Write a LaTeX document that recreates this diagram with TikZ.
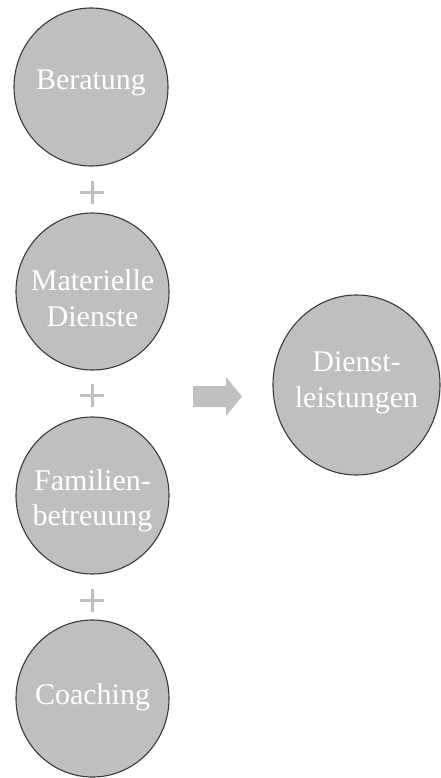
\documentclass[tikz,border=0pt]{standalone}
\usepackage{fontspec}
\setmainfont{Liberation Serif}
\usetikzlibrary{shapes.geometric,calc}

\definecolor{discfill}{RGB}{191,191,191}
\definecolor{discline}{RGB}{58,58,58}
\definecolor{signgray}{RGB}{192,192,192}

\tikzset{
  disc/.style={ellipse, draw=discline, line width=1.1bp, fill=discfill, inner sep=0pt},
  smalldisc/.style={disc, minimum width=153bp, minimum height=157bp},
  lbl/.style={text=white, align=center, inner sep=0pt,
    font=\fontsize{30bp}{35.5bp}\selectfont},
  plusbar/.style={draw=signgray, line width=3bp},
}

\begin{document}
\begin{tikzpicture}[x=1bp, y=-1bp]
  \useasboundingbox (0,0) rectangle (441,778);

  % the four service discs on the left
  \node[smalldisc, minimum width=154bp, minimum height=158bp] (ber) at (91,87) {};
  \node[smalldisc] (mat) at (92.5,291.5) {};
  \node[smalldisc] (fam) at (92.5,495.5) {};
  \node[smalldisc] (coa) at (92.5,698.5) {};

  % the result disc on the right
  \node[disc, minimum width=167bp, minimum height=180bp] (dl) at (356.5,385) {};

  % labels
  \node[lbl] (ber-t) at ($(ber)+(0,-4)$) {Beratung};
  \node[lbl] (mat-t) at ($(mat)+(0,6.6)$) {Materielle\\Dienste};
  \node[lbl] (fam-t) at ($(fam)+(0,5.2)$) {Familien-\\betreuung};
  \node[lbl] (coa-t) at ($(coa)+(0,-1.5)$) {Coaching};
  \node[lbl] (dl-t) at ($(dl)+(0,-2.2)$) {Dienst-\\leistungen};

  % plus signs between the discs
  \coordinate (p1) at (92,192.5);
  \coordinate (p2) at (92,395.5);
  \coordinate (p3) at (92,600);
  \foreach \p in {p1,p2,p3}{
    \draw[plusbar] ($(\p)+(-12,0)$) -- ($(\p)+(12,0)$);
    \draw[plusbar] ($(\p)+(0,-11.5)$) -- ($(\p)+(0,11.5)$);
  }

  % block arrow towards the result
  \coordinate (arr) at (193,396.5);
  \fill[signgray] (arr) ++(0,-10.5) -- ++(33,0) -- ++(0,-9) -- ++(16,19.5)
    -- ++(-16,19.5) -- ++(0,-9) -- ++(-33,0) -- cycle;
\end{tikzpicture}
\end{document}
